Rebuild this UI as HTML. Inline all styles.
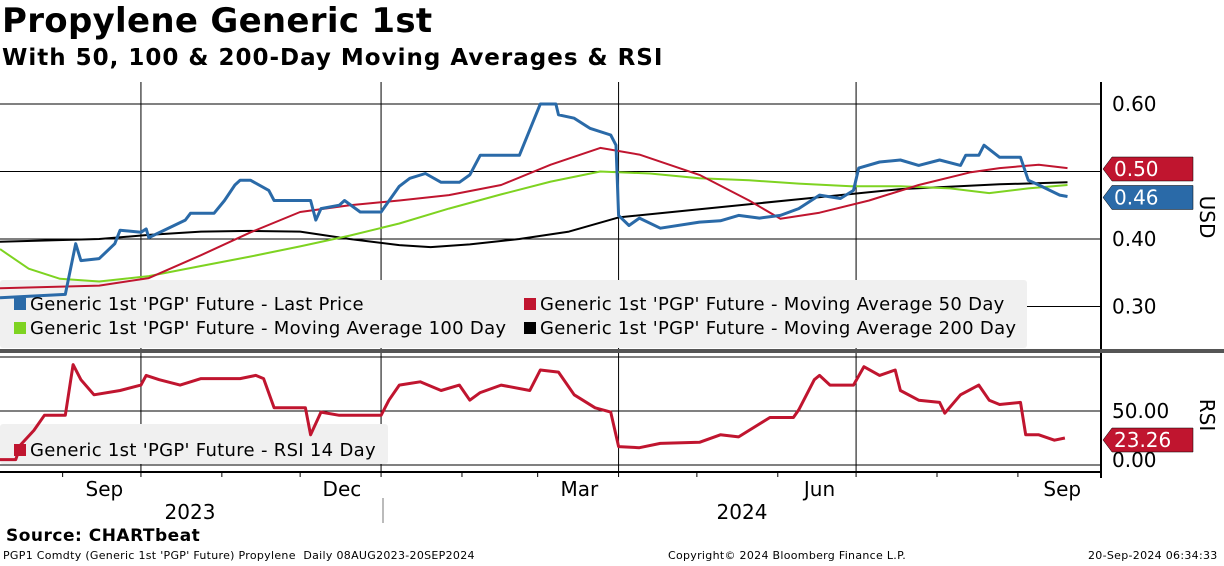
<!DOCTYPE html>
<html><head><meta charset="utf-8">
<style>
body{margin:0;background:#fff;font-family:"Liberation Sans","DejaVu Sans",sans-serif;}
#wrap{position:relative;width:1224px;height:566px;overflow:hidden;}
.t{position:absolute;white-space:nowrap;}
</style></head><body>
<div id="wrap">
<div class="t" style="left:2px;top:1px;font:bold 34px 'DejaVu Sans',sans-serif;letter-spacing:0.3px;">Propylene Generic 1st</div>
<div class="t" style="left:2px;top:45px;font:bold 23px 'DejaVu Sans',sans-serif;letter-spacing:1px;">With 50, 100 &amp; 200-Day Moving Averages &amp; RSI</div>
<svg id="svg" width="1224" height="566" style="position:absolute;left:0;top:0"></svg>
<div class="t" style="left:6px;top:526px;font:bold 17px 'DejaVu Sans',sans-serif;letter-spacing:0.5px;">Source: CHARTbeat</div>
<div class="t" style="left:3px;top:549px;font:11px 'DejaVu Sans',sans-serif;letter-spacing:0.3px;">PGP1 Comdty (Generic 1st 'PGP' Future) Propylene&nbsp; Daily 08AUG2023-20SEP2024</div>
<div class="t" style="left:668px;top:549px;font:11px 'DejaVu Sans',sans-serif;letter-spacing:0.3px;">Copyright© 2024 Bloomberg Finance L.P.</div>
<div class="t" style="left:1088px;top:549px;font:11px 'DejaVu Sans',sans-serif;letter-spacing:0.3px;">20-Sep-2024 06:34:33</div>
</div>
<script>
const priceDays=[0,25,29,31,38,44,46,54,56,57,71,73,82,86,90,92,96,103,105,119,121,123,130,132,138,146,153,157,163,169,176,180,184,192,199,207,213,214,220,226,234,236,237,241,245,253,268,276,283,291,299,306,314,322,327,329,337,345,352,360,368,370,375,377,383,391,394,398,406,409];
const priceVals=[0.313,0.318,0.393,0.368,0.371,0.393,0.413,0.41,0.415,0.402,0.428,0.438,0.438,0.457,0.48,0.487,0.487,0.472,0.457,0.457,0.428,0.445,0.45,0.457,0.44,0.44,0.478,0.49,0.497,0.484,0.484,0.495,0.524,0.524,0.524,0.60,0.60,0.584,0.579,0.564,0.554,0.539,0.435,0.42,0.431,0.416,0.425,0.427,0.435,0.431,0.435,0.445,0.465,0.46,0.472,0.505,0.514,0.517,0.509,0.517,0.509,0.524,0.524,0.539,0.521,0.521,0.487,0.48,0.465,0.463];
const ma50Days=[0,38,57,77,96,115,134,153,172,192,211,230,245,268,287,299,314,333,352,372,383,398,409];
const ma50Vals=[0.327,0.331,0.342,0.376,0.41,0.44,0.45,0.457,0.465,0.48,0.51,0.535,0.525,0.495,0.457,0.43,0.439,0.457,0.48,0.499,0.505,0.51,0.505];
const ma100Days=[0,11,23,38,57,77,96,115,134,153,172,192,211,230,249,268,287,306,326,345,364,379,394,409];
const ma100Vals=[0.385,0.356,0.341,0.337,0.345,0.36,0.374,0.389,0.405,0.423,0.445,0.466,0.485,0.5,0.497,0.49,0.487,0.482,0.478,0.478,0.475,0.468,0.475,0.48];
const ma200Days=[0,38,57,77,96,115,134,153,165,180,199,218,237,268,306,345,383,409];
const ma200Vals=[0.396,0.4,0.406,0.411,0.412,0.411,0.4,0.391,0.388,0.392,0.4,0.411,0.432,0.444,0.459,0.474,0.481,0.484];
const rsiDays=[0,6,8,13,17,25,28,31,36,46,54,56,61,69,77,92,98,101,105,117,119,123,130,146,149,153,161,169,176,180,184,192,203,207,214,220,228,234,237,245,253,268,276,283,295,304,306,312,314,318,327,331,337,343,345,352,360,362,368,375,379,383,391,393,398,404,408];
const rsiVals=[5,5,19,32,46,46,93,79,65,69,74,83,79,74,80,80,83,80,53,53,28,49,46,46,60,74,77,69,74,60,67,74,69,88,86,65,53,49,17,16,20,21,28,26,44,44,51,79,83,74,74,91,83,88,69,60,58,48,65,74,60,56,58,28,28,23,25];

const svg=document.getElementById('svg');
const NS='http://www.w3.org/2000/svg';
const X=d=>d*2.61;
const YP=v=>104+(0.60-v)*675;
const YR=v=>465-v*1.08;
function el(tag,attrs){const e=document.createElementNS(NS,tag);for(const k in attrs)e.setAttribute(k,attrs[k]);svg.appendChild(e);return e;}
function txt(x,y,s,size,anchor,fill,name,ls){const e=el('text',{x:x,y:y,'font-size':size,'font-family':"'DejaVu Sans',sans-serif",'text-anchor':anchor||'start',fill:fill||'#000','letter-spacing':ls||0});e.textContent=s;


return e;}
[0.60,0.50,0.40,0.30].forEach(v=>{const l=el('line',{x1:0,x2:1101,y1:YP(v),y2:YP(v),stroke:'#000','stroke-width':1});


txt(1112,YP(v)+7,v.toFixed(2),20,'start','#000','price-tick-label');});
[100,50,0].forEach(v=>{const l=el('line',{x1:0,x2:1101,y1:YR(v),y2:YR(v),stroke:'#000','stroke-width':1});

});
txt(1112,YR(50)+7,'50.00',20,'start','#000','rsi-tick-label');
txt(1112,YR(0)+2,'0.00',20,'start','#000','rsi-tick-label');
const qDays=[54,146,237,328];
qDays.forEach(d=>{const l=el('line',{x1:X(d),x2:X(d),y1:82,y2:472,stroke:'#000','stroke-width':1});

});
const mDays=[24,54,85,115,146,177,206,237,267,298,328,359,390];
mDays.forEach(d=>{const l=el('line',{x1:X(d),x2:X(d),y1:472,y2:477,stroke:'#000'});

});
const monthLabels=['Sep','Dec','Mar','Jun','Sep'];
const monthLabelDays=[40,131,222,314,407];
monthLabels.forEach((m,i)=>txt(X(monthLabelDays[i]),496,m,20,'middle','#000','month-label'));
txt(190,519,'2023',20,'middle','#000','year-label');
txt(742,519,'2024',20,'middle','#000','year-label');
let yd=el('line',{x1:383,x2:383,y1:498,y2:523,stroke:'#777'});


let ax=el('line',{x1:1101,x2:1101,y1:82,y2:478,stroke:'#000','stroke-width':2});


let xa=el('line',{x1:0,x2:1101,y1:472,y2:472,stroke:'#000','stroke-width':2});


let dv=el('rect',{x:0,y:349,width:1224,height:4,fill:'#555'});


let lg=el('rect',{x:0,y:280,width:1027,height:68,fill:'#f0f0f0',rx:3});


let lg2=el('rect',{x:0,y:424,width:388,height:40,fill:'#f0f0f0',rx:3});


function series(days,vals,yf,color,w,name){const d=days.map((t,i)=>(i?'L':'M')+X(t).toFixed(1)+','+yf(vals[i]).toFixed(1)).join('');
const p=el('path',{d:d,fill:'none',stroke:color,'stroke-width':w,'stroke-linejoin':'round'});

}
series(ma200Days,ma200Vals,YP,'#000',2,'ma200-line');
series(ma100Days,ma100Vals,YP,'#7ed321',2,'ma100-line');
series(ma50Days,ma50Vals,YP,'#c0152f',2,'ma50-line');
series(priceDays,priceVals,YP,'#2a6aa8',3,'price-line');
series(rsiDays,rsiVals,YR,'#c0152f',3,'rsi-line');
function lent(x,y,c,s,name){const r=el('rect',{x:x,y:y-12,width:12,height:12,fill:c});


txt(x+16,y,s,18,'start','#000',name,0.3);}
lent(14,310,'#2a6aa8',"Generic 1st 'PGP' Future - Last Price",'legend-entry-price');
lent(524,310,'#c0152f',"Generic 1st 'PGP' Future - Moving Average 50 Day",'legend-entry-ma50');
lent(14,334,'#7ed321',"Generic 1st 'PGP' Future - Moving Average 100 Day",'legend-entry-ma100');
lent(524,334,'#000',"Generic 1st 'PGP' Future - Moving Average 200 Day",'legend-entry-ma200');
lent(14,456,'#c0152f',"Generic 1st 'PGP' Future - RSI 14 Day",'legend-entry-rsi');
function tag(y,c,s,name){const p=el('path',{d:`M1103,${y} L1112,${y-12} L1193,${y-12} L1193,${y+12} L1112,${y+12} Z`,fill:c,stroke:'#000','stroke-width':0.5});


txt(1114,y+7,s,20,'start','#fff',name+'-text');}
tag(YP(0.463)+1,'#2a6aa8',priceVals[priceVals.length-1].toFixed(2),'last-price-tag');
tag(169,'#c0152f','0.50','ma50-tag');
tag(440,'#c0152f','23.26','rsi-tag');
let t1=txt(1200,217,'USD',20,'middle','#000','y-axis-title-usd');t1.setAttribute('transform','rotate(90 1200 217)');
let t2=txt(1200,415,'RSI',20,'middle','#000','y-axis-title-rsi');t2.setAttribute('transform','rotate(90 1200 415)');
</script>
</body></html>
